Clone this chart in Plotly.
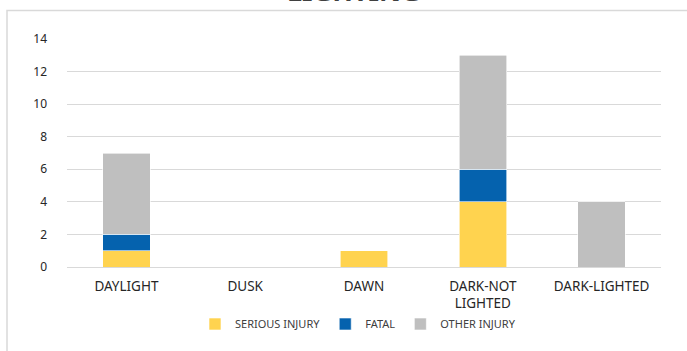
import plotly.graph_objects as go

categories = ["DAYLIGHT", "DUSK", "DAWN", "DARK-NOT<br>LIGHTED", "DARK-LIGHTED"]
serious_injury = [1, 0, 1, 4, 0]
fatal = [1, 0, 0, 2, 0]
other_injury = [5, 0, 0, 7, 4]
y_ticks = [0, 2, 4, 6, 8, 10, 12, 14]

FONT = "'Noto Sans', 'Open Sans', sans-serif"
W, H = 687, 351
L, R, T, B = 67, 26, 39, 84
pw, ph = W - L - R, H - T - B

def px_x(x):
    return (x - L) / pw

def px_y(y):
    return (H - B - y) / ph

fig = go.Figure()
for name, vals, col in [
    ("SERIOUS INJURY", serious_injury, "#FFD34F"),
    ("FATAL", fatal, "#0562AE"),
    ("OTHER INJURY", other_injury, "#BFBFBF"),
]:
    fig.add_trace(go.Bar(x=categories, y=vals, name=name,
                         marker=dict(color=col, line=dict(color="white", width=0.6))))

fig.update_layout(
    barmode="stack",
    bargap=0.6,
    width=W, height=H,
    margin=dict(l=L, r=R, t=T, b=B),
    paper_bgcolor="white", plot_bgcolor="white",
    font=dict(family=FONT, size=12, color="#404040"),
    showlegend=True,
    legend=dict(orientation="h", x=px_x(358), xanchor="center", y=px_y(324), yanchor="middle",
                font=dict(size=11, color="#404040"), traceorder="normal",
                itemwidth=30, tracegroupgap=0),
    xaxis=dict(showgrid=False, showline=False, zeroline=False, ticks="",
               ticklabelstandoff=9, tickfont=dict(size=13.5, color="#262626")),
    yaxis=dict(range=[0, 14], tickvals=y_ticks, showgrid=True, gridcolor="#D9D9D9",
               gridwidth=1, zeroline=True, zerolinecolor="#D9D9D9", zerolinewidth=1,
               showline=False, ticks="", ticklabelstandoff=19,
               tickfont=dict(size=12, color="#262626")),
    shapes=[dict(type="rect", xref="paper", yref="paper",
                 x0=px_x(7), x1=px_x(720), y0=px_y(380), y1=px_y(10.5),
                 line=dict(color="#D9D9D9", width=1.5), fillcolor="rgba(0,0,0,0)",
                 layer="below")],
    annotations=[dict(text="<b>LIGHTING</b>", xref="paper", yref="paper",
                      x=px_x(353), y=px_y(11), xanchor="center", yanchor="bottom",
                      showarrow=False, font=dict(size=27, color="#404040", family=FONT))],
)

fig.write_html("out.html", config={"displayModeBar": False},
               post_script="document.body.style.margin='0';document.body.style.overflow='hidden';")
